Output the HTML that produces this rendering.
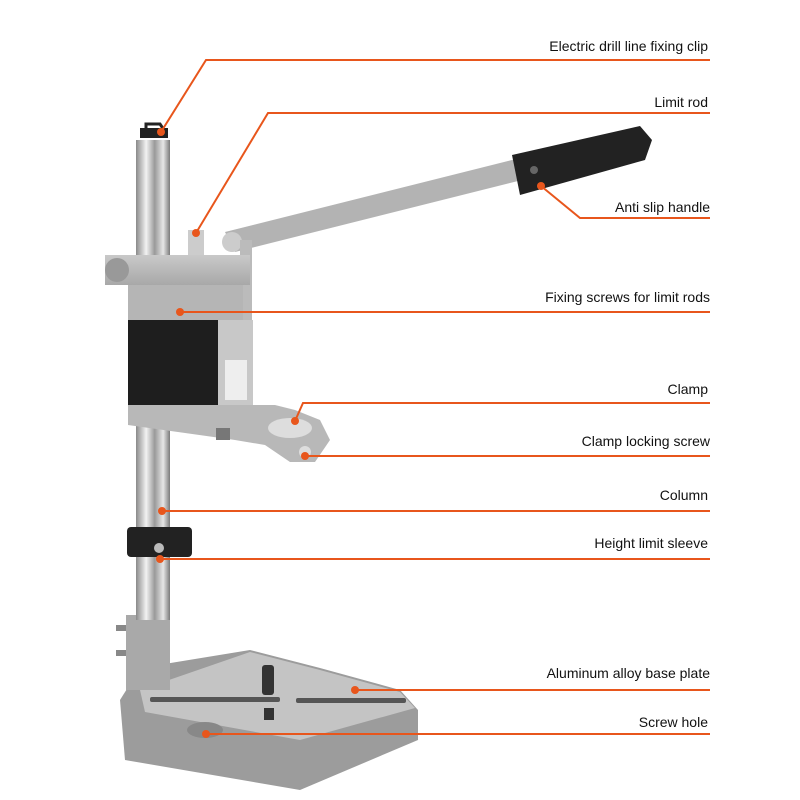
<!DOCTYPE html>
<html><head><meta charset="utf-8"><style>
html,body{margin:0;padding:0;background:#fff;}
svg{display:block}
text{font-family:"Liberation Sans",Arial,sans-serif;font-size:14px;fill:#111;}
</style></head><body>
<svg width="800" height="800" viewBox="0 0 800 800" xmlns="http://www.w3.org/2000/svg">
<defs>
<linearGradient id="rod" x1="0" x2="1"><stop offset="0" stop-color="#8a8a8a"/><stop offset=".3" stop-color="#f2f2f2"/><stop offset=".55" stop-color="#9a9a9a"/><stop offset=".8" stop-color="#e6e6e6"/><stop offset="1" stop-color="#7a7a7a"/></linearGradient>
<linearGradient id="alu" x1="0" y1="0" x2="0" y2="1"><stop offset="0" stop-color="#c9c9c9"/><stop offset="1" stop-color="#a8a8a8"/></linearGradient>
</defs>
<!-- base -->
<polygon points="120,700 140,668 250,650 320,668 400,690 418,710 418,740 300,790 125,760" fill="#9c9c9c"/>
<polygon points="140,690 250,652 320,670 400,692 415,708 300,740 145,712" fill="#c4c4c4"/>
<rect x="150" y="697" width="130" height="5" rx="2" fill="#555"/>
<rect x="296" y="698" width="110" height="5" rx="2" fill="#555"/>
<rect x="262" y="665" width="12" height="30" rx="3" fill="#333"/>
<rect x="264" y="708" width="10" height="12" fill="#333"/>
<ellipse cx="205" cy="730" rx="18" ry="8" fill="#888"/>
<!-- column base boss -->
<rect x="126" y="615" width="44" height="75" fill="#a9a9a9"/>
<rect x="116" y="625" width="10" height="6" fill="#888"/><rect x="116" y="650" width="10" height="6" fill="#888"/>
<!-- column -->
<rect x="136" y="140" width="34" height="480" fill="url(#rod)"/>
<rect x="140" y="128" width="28" height="10" fill="#222"/>
<path d="M146 128 v-4 h14 l4 6" fill="none" stroke="#222" stroke-width="3"/>
<!-- height sleeve -->
<rect x="127" y="527" width="65" height="30" rx="4" fill="#222"/>
<circle cx="159" cy="548" r="5" fill="#bbb"/>
<!-- lever -->
<polygon points="225,232 520,158 522,180 235,252" fill="#b3b3b3"/>
<polygon points="512,155 640,126 652,140 645,160 520,195" fill="#222"/>
<circle cx="534" cy="170" r="4" fill="#666"/>
<circle cx="232" cy="242" r="10" fill="#ccc"/>
<rect x="240" y="240" width="12" height="115" fill="#bbb"/>
<!-- head -->
<rect x="188" y="230" width="16" height="25" fill="#ccc"/>
<rect x="105" y="255" width="145" height="30" fill="url(#alu)"/>
<circle cx="117" cy="270" r="12" fill="#999"/>
<rect x="128" y="285" width="115" height="35" fill="#b5b5b5"/>
<rect x="128" y="320" width="90" height="85" fill="#1e1e1e"/>
<rect x="218" y="320" width="35" height="85" fill="#c8c8c8"/>
<rect x="225" y="360" width="22" height="40" fill="#eee"/>
<!-- arm -->
<polygon points="128,405 275,405 295,410 320,420 330,440 315,462 290,462 265,445 235,440 128,425" fill="#b8b8b8"/>
<ellipse cx="290" cy="428" rx="22" ry="10" fill="#ddd"/>
<rect x="216" y="428" width="14" height="12" fill="#777"/>
<circle cx="305" cy="452" r="6" fill="#ddd"/>
<!-- callout lines -->
<g stroke="#e8561c" stroke-width="2" fill="none">
<polyline points="161,132 206,60 710,60"/>
<polyline points="196,233 268,113 710,113"/>
<polyline points="541,186 580,218 710,218"/>
<polyline points="180,312 710,312"/>
<polyline points="295,421 303,403 710,403"/>
<polyline points="305,456 710,456"/>
<polyline points="162,511 710,511"/>
<polyline points="160,559 710,559"/>
<polyline points="355,690 710,690"/>
<polyline points="206,734 710,734"/>
</g>
<g fill="#e8561c">
<circle cx="161" cy="132" r="4"/><circle cx="196" cy="233" r="4"/><circle cx="541" cy="186" r="4"/>
<circle cx="180" cy="312" r="4"/><circle cx="295" cy="421" r="4"/><circle cx="305" cy="456" r="4"/>
<circle cx="162" cy="511" r="4"/><circle cx="160" cy="559" r="4"/><circle cx="355" cy="690" r="4"/><circle cx="206" cy="734" r="4"/>
</g>
<g text-anchor="end">
<text x="708" y="51">Electric drill line fixing clip</text>
<text x="708" y="107">Limit rod</text>
<text x="710" y="212">Anti slip handle</text>
<text x="710" y="302">Fixing screws for limit rods</text>
<text x="708" y="394">Clamp</text>
<text x="710" y="446">Clamp locking screw</text>
<text x="708" y="500">Column</text>
<text x="708" y="548">Height limit sleeve</text>
<text x="710" y="678">Aluminum alloy base plate</text>
<text x="708" y="727">Screw hole</text>
</g>
</svg>
</body></html>
